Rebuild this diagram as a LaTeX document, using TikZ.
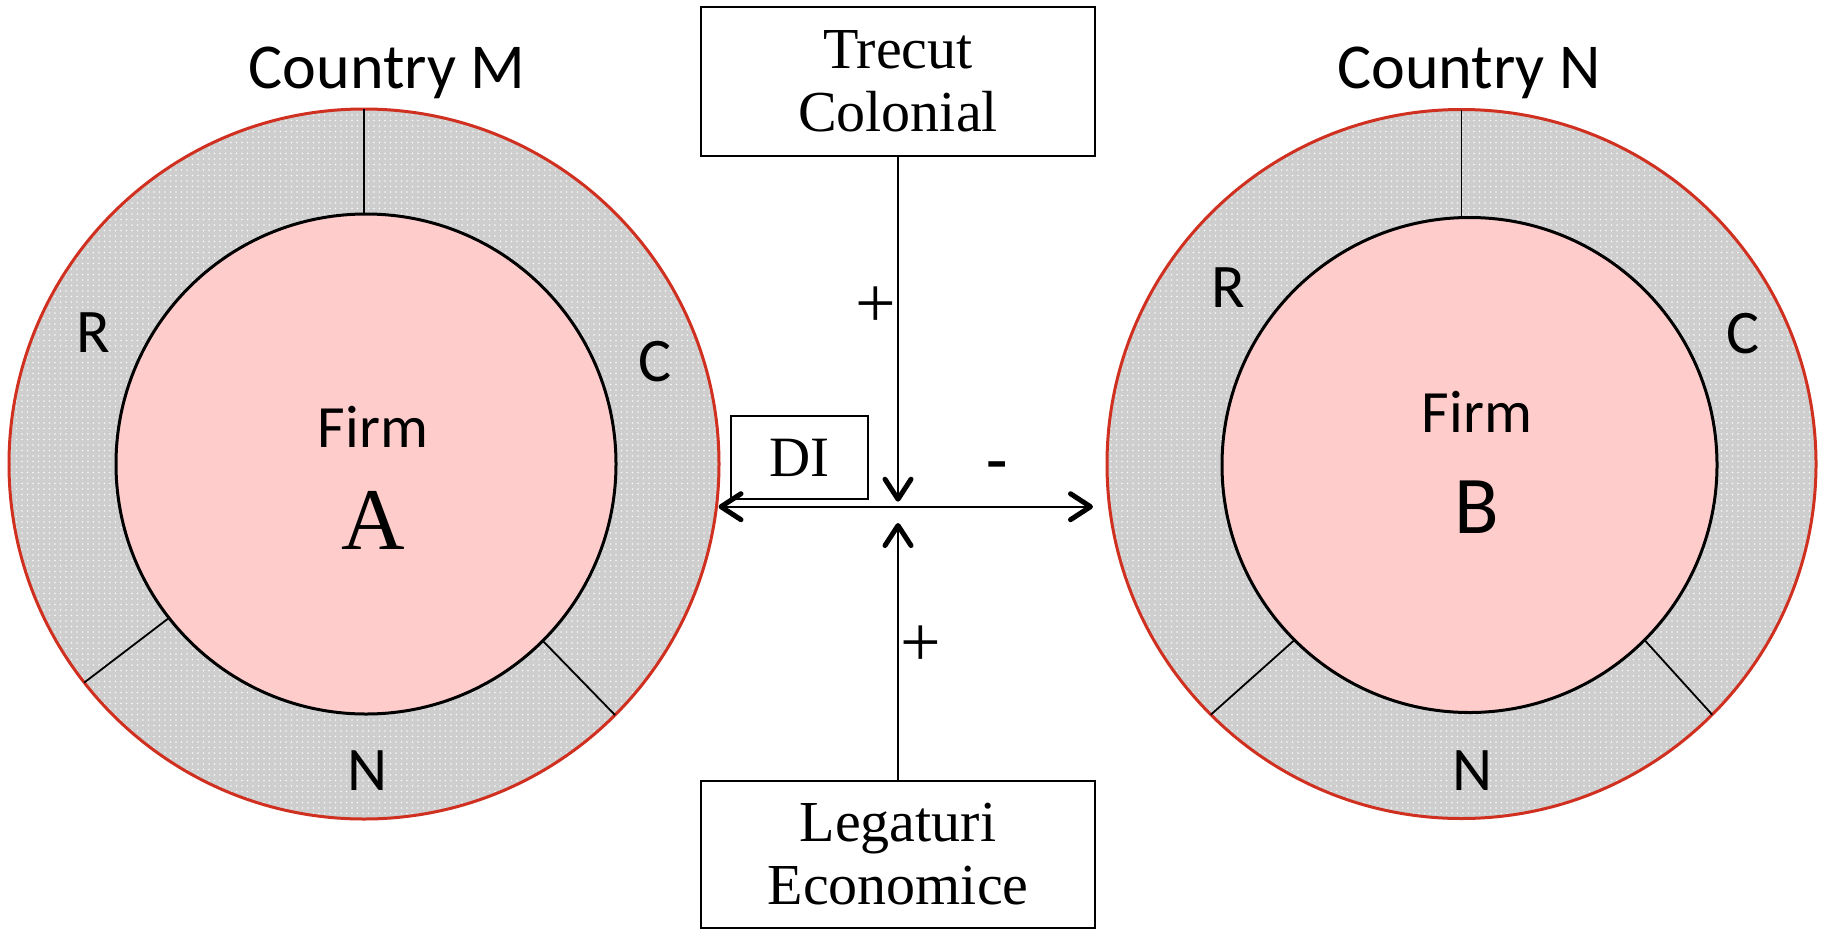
\documentclass[tikz,border=0pt]{standalone}
\usepackage{fontspec}
\setmainfont{Liberation Serif}
\newfontfamily\calfont{Carlito}
\usetikzlibrary{arrows.meta,patterns.meta}
\definecolor{ringred}{RGB}{208,48,32}
\definecolor{ringgray}{RGB}{206,206,206}
\definecolor{firmpink}{RGB}{255,204,204}
\newcommand{\fsCountry}{\calfont\fontsize{64}{70}\selectfont}
\newcommand{\fsSeg}{\calfont\fontsize{62}{70}\selectfont}
\newcommand{\fsFirm}{\calfont\fontsize{60}{70}\selectfont}
\newcommand{\fsBigB}{\calfont\fontsize{82}{90}\selectfont}
\newcommand{\fsBigA}{\fontsize{88}{96}\selectfont}
\newcommand{\fsBox}{\fontsize{58}{63}\selectfont}
\newcommand{\fsDI}{\fontsize{57}{60}\selectfont}
\newcommand{\fsSign}{\fontsize{72}{76}\selectfont}
\newcommand{\fsMinus}{\bfseries\fontsize{64}{70}\selectfont}
\tikzset{
  barbtip/.style={-{Straight Barb[length=20pt,width=26pt,line width=5pt 0,round]}},
  barbboth/.style={{Straight Barb[length=20pt,width=26pt,line width=5pt 0,round]}-{Straight Barb[length=20pt,width=26pt,line width=5pt 0,round]}},
  ringnode/.style={circle, inner sep=0pt, outer sep=0pt, minimum size=#1,
    draw=ringred, line width=3pt, preaction={fill=ringgray},
    pattern={Dots[distance=5.5pt,radius=0.9pt]}, pattern color=white!85!ringgray},
  firmnode/.style={circle, inner sep=0pt, outer sep=0pt, minimum size=#1,
    draw=black, line width=3pt, fill=firmpink},
  divider/.style={black, line width=1.8pt},
  srcbox/.style={draw=black, line width=2pt, inner sep=0pt, outer sep=0pt,
    align=center, font=\fsBox},
  link/.style={black, line width=2pt},
  seglbl/.style={font=\fsSeg, inner sep=0pt},
  countrylbl/.style={font=\fsCountry, inner sep=0pt, anchor=base},
  firmlbl/.style={font=\fsFirm, inner sep=0pt, anchor=base},
  signlbl/.style={font=\fsSign, inner sep=0pt}
}
\begin{document}
\begin{tikzpicture}[x=1pt,y=-1pt]
\useasboundingbox (0,0) rectangle (1825,929);
\fill[white] (0,0) rectangle (1825,929);

% Country M
\node[ringnode=710pt] (ringM) at (364,464) {};
\node[firmnode=500pt] (firmA) at (366,464) {};
\draw[divider] (ringM.90) -- (ringM.90 |- firmA.90);
\draw[divider] (firmA.218) -- (ringM.218);
\draw[divider] (firmA.315) -- (ringM.315);

% Country N
\node[ringnode=709pt] (ringN) at (1461.5,464) {};
\node[firmnode=495pt] (firmB) at (1469.5,465) {};
\draw[divider] (ringN.90) -- (ringN.90 |- firmB.90);
\draw[divider] (firmB.225) -- (ringN.225);
\draw[divider] (firmB.315) -- (ringN.315);

% labels
\node[countrylbl] (cM) at (387,88) {Country M};
\node[countrylbl] (cN) at (1469,88) {Country N};
\node[seglbl] (rM) at (93,333) {R};
\node[seglbl] (ccM) at (655,362) {C};
\node[seglbl] (nM) at (368,771) {N};
\node[seglbl] (rN) at (1228,288) {R};
\node[seglbl] (ccN) at (1743,334) {C};
\node[seglbl] (nN) at (1472,771) {N};
\node[firmlbl] (fA) at (373,447) {Firm};
\node[font=\fsBigA, inner sep=0pt, anchor=base] (lA) at (373,549) {A};
\node[firmlbl] (fB) at (1477,432) {Firm};
\node[font=\fsBigB, inner sep=0pt, anchor=base] (lB) at (1477,533) {B};

% boxes
\node[srcbox, minimum width=394pt, minimum height=149pt] (trecut) at (898,81.5) {Trecut\\Colonial};
\node[srcbox, minimum width=394pt, minimum height=147pt] (legaturi) at (898,854.5) {Legaturi\\Economice};
\node[draw=black, line width=2pt, inner sep=0pt, minimum width=137pt, minimum height=83pt, font=\fsDI] (di) at (799.5,457.5) {DI};

% connectors
\coordinate (hubN) at (898,501.7);
\coordinate (hubS) at (898,523);
\coordinate (tipL) at (718.5,506.7);
\coordinate (tipR) at (1093,506.7);
\draw[link, barbtip] (trecut.south) -- (hubN);
\draw[link, barbtip] (legaturi.north) -- (hubS);
\draw[link, barbboth] (tipL) -- (tipR);

\node[signlbl] (plusT) at (876,307) {+};
\node[signlbl] (plusB) at (921,646) {+};
\node[font=\fsMinus, inner sep=0pt] (minus) at (997,471) {-};
\end{tikzpicture}
\end{document}
